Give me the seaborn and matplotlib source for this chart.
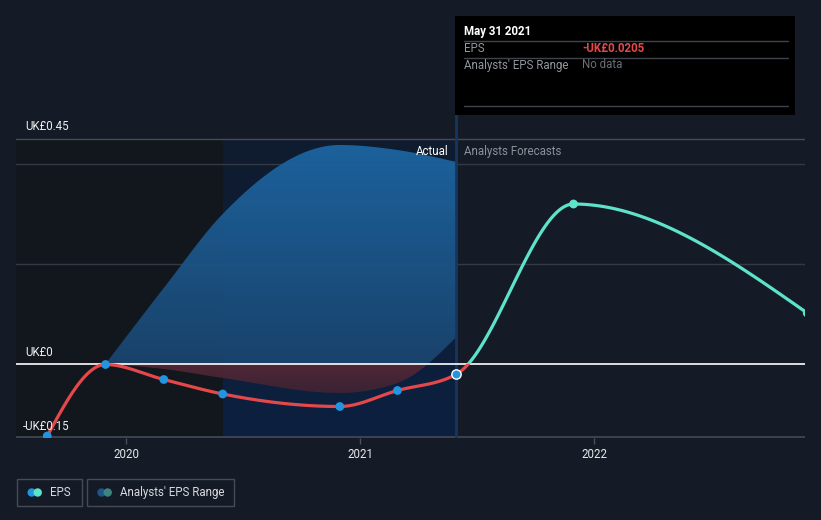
import numpy as np
import pandas as pd
import matplotlib
matplotlib.use("Agg")
import matplotlib.pyplot as plt
import matplotlib.dates as mdates
import seaborn as sns
from matplotlib.patches import Rectangle, Circle, PathPatch
from matplotlib.path import Path
from matplotlib.colors import LinearSegmentedColormap

# ---------------- data ----------------
eps_dates = ["2019-08-31", "2019-11-30", "2020-02-29", "2020-05-31",
             "2020-11-30", "2021-02-28", "2021-05-31"]
eps_values = [-0.144, -0.001, -0.031, -0.060, -0.085, -0.053, -0.0205]

forecast_dates = ["2021-11-30", "2022-11-30"]
forecast_values = [0.32, 0.102]

range_dates = ["2019-11-30", "2020-02-29", "2020-05-31",
               "2020-11-30", "2021-02-28", "2021-05-31"]
range_low = [0.0, -0.010, -0.028, -0.058, -0.038, 0.054]
range_high = [0.0, 0.152, 0.300, 0.438, 0.428, 0.404]

y_tick_values = [0.45, 0.0, -0.15]
y_tick_labels = ["UK£0.45", "UK£0", "-UK£0.15"]
x_tick_years = ["2020", "2021", "2022"]

tooltip_date = "May 31 2021"
tooltip_eps = "-UK£0.0205"
tooltip_range = "No data"

# ---------------- style ----------------
BG = "#151b26"
RED = "#e5484a"
BLUE = "#2394df"
CYAN = "#5ee3cb"
GRID = "#343944"

sns.set_theme(style="dark")
plt.rcParams["font.family"] = ["Roboto", "DejaVu Sans"]

W, H = 821, 520
fig = plt.figure(figsize=(W / 100, H / 100), dpi=100, facecolor=BG)


def fx(px):
    return px / W


def fy(py):
    return 1 - py / H


ax = fig.add_axes([fx(16), fy(438), fx(805) - fx(16), fy(105) - fy(438)])
ax.set_facecolor(BG)
for s in ax.spines.values():
    s.set_visible(False)


def d(s):
    return mdates.date2num(pd.Timestamp(s))


d2020 = d("2020-01-01")
dpp = (d("2022-01-01") - d2020) / (594 - 126)  # days per pixel
xmin = d2020 + (16 - 126) * dpp
xmax = d2020 + (805 - 126) * dpp
ymin, ymax = (364 - 438) / 500, (364 - 105) / 500
ax.set_xlim(xmin, xmax)
ax.set_ylim(ymin, ymax)


def monotone(xs, ys, n=60):
    xs = np.asarray(xs, float)
    ys = np.asarray(ys, float)
    m = len(xs)
    h = np.diff(xs)
    s = np.diff(ys) / h
    t = np.zeros(m)
    for i in range(1, m - 1):
        h0, h1, s0, s1 = h[i - 1], h[i], s[i - 1], s[i]
        p = (s0 * h1 + s1 * h0) / (h0 + h1)
        t[i] = (np.sign(s0) + np.sign(s1)) * min(abs(s0), abs(s1), 0.5 * abs(p))
    if m > 2:
        t[0] = (3 * s[0] - t[1]) / 2
        t[-1] = (3 * s[-1] - t[-2]) / 2
    else:
        t[0] = t[-1] = s[0]
    X, Y = [], []
    for i in range(m - 1):
        u = np.linspace(0, 1, n, endpoint=(i == m - 2))
        hh = h[i]
        h00 = 2 * u**3 - 3 * u**2 + 1
        h10 = u**3 - 2 * u**2 + u
        h01 = -2 * u**3 + 3 * u**2
        h11 = u**3 - u**2
        X.append(xs[i] + u * hh)
        Y.append(h00 * ys[i] + h10 * hh * t[i] + h01 * ys[i + 1] + h11 * hh * t[i + 1])
    return np.concatenate(X), np.concatenate(Y)


def clip_patch(coll):
    path = Path.make_compound_path(*coll.get_paths())
    p = PathPatch(path, transform=ax.transData, facecolor="none",
                  edgecolor="none")
    ax.add_patch(p)
    return p


x_ed = [d(s) for s in eps_dates]
x_fd = [d(s) for s in forecast_dates]
x_rd = [d(s) for s in range_dates]
x_last = d("2021-05-31")
x_hl = d("2020-05-31")

# ---------------- background regions ----------------
ax.add_patch(Rectangle((xmin, ymin), x_hl - xmin, 0.45 - ymin,
                       facecolor="#12161d", edgecolor="none", zorder=0))
grad = np.linspace(0, 1, 100).reshape(-1, 1)
hl_cmap = LinearSegmentedColormap.from_list("hl", ["#0c2040", "#101b2e"])
ax.imshow(grad, cmap=hl_cmap, aspect="auto", origin="lower",
          extent=[x_hl, x_last, ymin, 0.45], zorder=0.5)

# grid
for v, c in [(0.45, "#454a55"), (0.4, GRID), (0.2, GRID)]:
    ax.axhline(v, color=c, lw=1, zorder=1)
ax.axhline(ymin + 0.0015, color="#454a55", lw=1.2, zorder=1)

# ---------------- analyst range band ----------------
bx, bl = monotone(x_rd, range_low)
_, bh = monotone(x_rd, range_high)
pos = ax.fill_between(bx, np.maximum(bl, 0), np.maximum(bh, 0),
                      facecolor="none", edgecolor="none", zorder=2)
band_cmap = LinearSegmentedColormap.from_list("band", ["#1a4670", "#1d68a6"])
im = ax.imshow(grad, cmap=band_cmap, aspect="auto", origin="lower",
               extent=[xmin, xmax, 0, 0.45], alpha=0.93, zorder=2)
im.set_clip_path(clip_patch(pos))
neg = ax.fill_between(bx, np.minimum(bl, 0), np.minimum(bh, 0),
                      facecolor="none", edgecolor="none", zorder=2)
neg_cmap = LinearSegmentedColormap.from_list("neg", ["#3a2334", "#562836"])
im2 = ax.imshow(grad, cmap=neg_cmap, aspect="auto", origin="lower",
                extent=[xmin, xmax, -0.07, 0], alpha=0.92, zorder=2)
im2.set_clip_path(clip_patch(neg))
ax.set_xlim(xmin, xmax)
ax.set_ylim(ymin, ymax)

# zero line
ax.axhline(0, color="white", lw=1.2, zorder=3)

# divider
ax.plot([x_last, x_last], [ymin, ymax], color="#17365e", lw=2, zorder=2.5,
        solid_capstyle="butt")

# ---------------- lines ----------------
all_x = x_ed + x_fd
all_y = eps_values + forecast_values
cx_, cy_ = monotone(all_x, all_y)
act = cx_ <= x_last + 1e-9
fut = cx_ >= x_last - 1e-9

sns.lineplot(x=cx_[act], y=cy_[act], ax=ax, color=RED, lw=2.3, sort=False,
             zorder=4)
sns.lineplot(x=cx_[fut], y=cy_[fut], ax=ax, color=RED, lw=2.3, sort=False,
             zorder=4)
ax.lines[-1].set_clip_path(Rectangle((xmin, ymin), xmax - xmin, 0 - ymin,
                                     transform=ax.transData))
sns.lineplot(x=cx_[fut], y=cy_[fut], ax=ax, color=CYAN, lw=2.3, sort=False,
             zorder=4)
ax.lines[-1].set_clip_path(Rectangle((xmin, 0), xmax - xmin, ymax,
                                     transform=ax.transData))

sns.scatterplot(x=x_ed[:-1], y=eps_values[:-1], ax=ax, color=BLUE, s=40,
                edgecolor="none", zorder=5)
sns.scatterplot(x=[x_ed[-1]], y=[eps_values[-1]], ax=ax, color=BLUE, s=45,
                edgecolor="white", linewidth=1, zorder=5)
sns.scatterplot(x=x_fd, y=forecast_values, ax=ax, color=CYAN, s=40,
                edgecolor="none", zorder=5)

ax.set_xlim(xmin, xmax)
ax.set_ylim(ymin, ymax)
ax.grid(False)

# ---------------- axes text ----------------
ax.set_xticks([d(f"{y}-01-01") for y in x_tick_years])
ax.set_xticklabels(x_tick_years)
ax.tick_params(axis="x", bottom=True, length=4, width=1, color="#4a4f59",
               labelcolor="#e8e8e8", labelsize=8.3, pad=3)
ax.set_yticks([])
ax.set_xlabel("")
ax.set_ylabel("")

for v, lab in zip(y_tick_values, y_tick_labels):
    xpos = fx(25) if v >= 0 else fx(23)
    fig.text(xpos, fy(364 - 500 * v - 12), lab, color="#eeeeee",
             fontsize=8.3, va="center", ha="left")

fig.text(fx(448), fy(151), "Actual", color="white", fontsize=8.3,
         ha="right", va="center")
fig.text(fx(464), fy(151), "Analysts Forecasts", color="#8d9199",
         fontsize=8.3, ha="left", va="center")

# ---------------- tooltip ----------------
fig.patches.append(Rectangle((fx(455), fy(115)), fx(795) - fx(455),
                             fy(16) - fy(115), transform=fig.transFigure,
                             facecolor="black", edgecolor="none", zorder=10))
for yy in (40.5, 57.5, 106.5):
    fig.add_artist(plt.Line2D([fx(464), fx(788)], [fy(yy), fy(yy)],
                              transform=fig.transFigure, color="#3f434b",
                              lw=1, zorder=11))
fig.text(fx(464), fy(31.5), tooltip_date, color="white", fontsize=8.3,
         fontweight="bold", va="center", zorder=12)
fig.text(fx(464), fy(48.5), "EPS", color="#92969e", fontsize=8.3,
         va="center", zorder=12)
fig.text(fx(582), fy(48.5), tooltip_eps, color="#e5484a", fontsize=8.3,
         fontweight="bold", va="center", zorder=12)
fig.text(fx(464), fy(65), "Analysts' EPS Range", color="#92969e",
         fontsize=8.3, va="center", zorder=12)
fig.text(fx(582), fy(65), tooltip_range, color="#6b6f77", fontsize=8.3,
         va="center", zorder=12)

# ---------------- legend ----------------
for (x0, x1) in [(16.5, 81.5), (86.5, 233.5)]:
    fig.patches.append(Rectangle((fx(x0), fy(506)), fx(x1) - fx(x0),
                                 fy(479) - fy(506), transform=fig.transFigure,
                                 facecolor="none", edgecolor="#474b54", lw=1))
leg_ax = fig.add_axes([0, 0, 1, 1], facecolor="none")
leg_ax.set_xlim(0, W)
leg_ax.set_ylim(H, 0)
leg_ax.axis("off")
for cx, col in [(31.7, BLUE), (37.7, CYAN), (101.5, "#1f5486"), (107.7, "#3d8481")]:
    leg_ax.add_patch(Circle((cx, 492.5), 4.2, facecolor=col, edgecolor="none"))
leg_ax.text(50, 492.5, "EPS", color="#d8dadf", fontsize=8.3, va="center")
leg_ax.text(120, 492.5, "Analysts' EPS Range", color="#d8dadf", fontsize=8.3,
            va="center")

fig.savefig("out.png", dpi=100, facecolor=BG)
